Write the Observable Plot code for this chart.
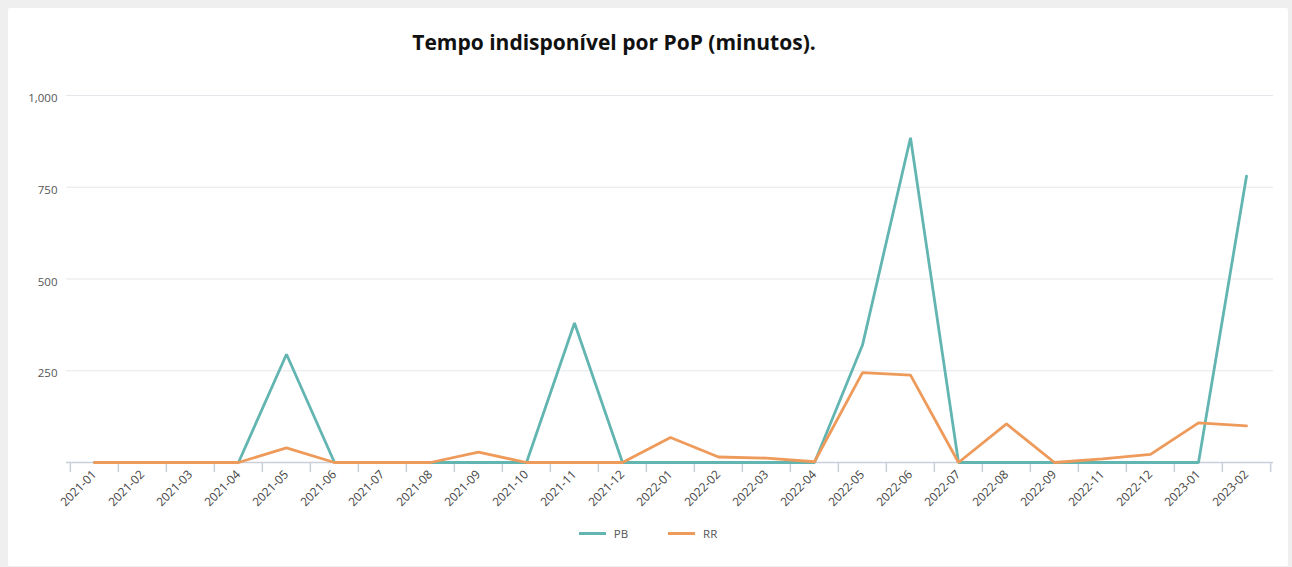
<!DOCTYPE html>
<html>
<head>
<meta charset="utf-8">
<script src="https://cdn.jsdelivr.net/npm/d3@7"></script>
<script src="https://cdn.jsdelivr.net/npm/@observablehq/plot@0.6"></script>
<style>
  html, body { margin: 0; padding: 0; background: #efefef; }
  #card { position: absolute; left: 8px; top: 8px; width: 1280px; height: 558px; background: #fff; border-radius: 2px; font-family: "Open Sans", Lato, sans-serif; }
  #title { position: absolute; top: 20px; left: 606px; transform: translateX(-50%); white-space: nowrap; font-size: 21px; line-height: 28px; font-weight: 700; color: #111; }
  #chart { position: absolute; top: 62px; left: 0; }
  #legend { position: absolute; top: 507px; left: 0; width: 1280px; height: 36px; display: flex; justify-content: center; align-items: center; gap: 40px; font-size: 11.5px; color: #555; }
  .item { display: flex; align-items: center; gap: 8px; }
  .sw { width: 27px; height: 3px; }
</style>
</head>
<body>
<div id="card">
  <div id="title">Tempo indisponível por PoP (minutos).</div>
  <div id="chart"></div>
  <div id="legend"></div>
</div>
<script>
const months = ["2021-01","2021-02","2021-03","2021-04","2021-05","2021-06","2021-07","2021-08","2021-09","2021-10","2021-11","2021-12",
                "2022-01","2022-02","2022-03","2022-04","2022-05","2022-06","2022-07","2022-08","2022-09","2022-11","2022-12",
                "2023-01","2023-02"];
const seriesNames = ["PB", "RR"];
const seriesColors = ["#62b5b1", "#ee9a5a"];
const pb = [0,0,0,0,295,0,0,0,0,0,380,0, 0,0,0,0,320,885,0,0,0,0,0, 0,780];
const rr = [0,0,0,0,40,0,0,0,28,0,0,0, 68,15,12,2,245,238,0,105,0,10,22, 108,100];
const yTicks = [250, 500, 750, 1000];

const data = [];
[pb, rr].forEach((vals, s) => vals.forEach((v, i) => data.push({month: months[i], series: seriesNames[s], value: v})));

const W = 1280, H = 445, mL = 58, mR = 15, mT = 25, mB = 53;
const bw = (W - mL - mR) / months.length;
const plotH = H - mT - mB;
const axisColor = "#c9d0d9";

const chart = Plot.plot({
  width: W, height: H, marginLeft: mL, marginRight: mR, marginTop: mT, marginBottom: mB,
  style: {fontFamily: "'Open Sans', Lato, sans-serif", fontSize: "11.5px", color: "#555", background: "transparent"},
  x: {type: "band", domain: months, padding: 0, axis: null},
  y: {domain: [0, 1000], axis: null},
  color: {domain: seriesNames, range: seriesColors},
  marks: [
    Plot.gridY(yTicks, {stroke: "#e4e7eb", strokeOpacity: 1, strokeWidth: 1.2}),
    Plot.ruleY([0], {stroke: axisColor, strokeWidth: 1.5}),
    Plot.ruleX(months, {x: d => d, dx: -bw / 2, insetTop: plotH, insetBottom: -10, stroke: axisColor, strokeWidth: 1.5}),
    Plot.ruleX([months[months.length - 1]], {x: d => d, dx: bw / 2, insetTop: plotH, insetBottom: -10, stroke: axisColor, strokeWidth: 1.5}),
    Plot.axisY({ticks: yTicks, tickFormat: d3.format(","), tickSize: 0, tickPadding: 9, dy: 3, label: null, fill: "#555"}),
    Plot.axisX({tickSize: 0, tickPadding: 10, tickRotate: -45, label: null, fill: "#444", fontSize: 12}),
    Plot.lineY(data, {x: "month", y: "value", stroke: "series", strokeWidth: 2.8, strokeLinejoin: "miter"})
  ]
});
document.getElementById("chart").appendChild(chart);

const legend = document.getElementById("legend");
seriesNames.forEach((n, i) => {
  const it = document.createElement("div");
  it.className = "item";
  it.innerHTML = `<div class="sw" style="background:${seriesColors[i]}"></div><span>${n}</span>`;
  legend.appendChild(it);
});
</script>
</body>
</html>
